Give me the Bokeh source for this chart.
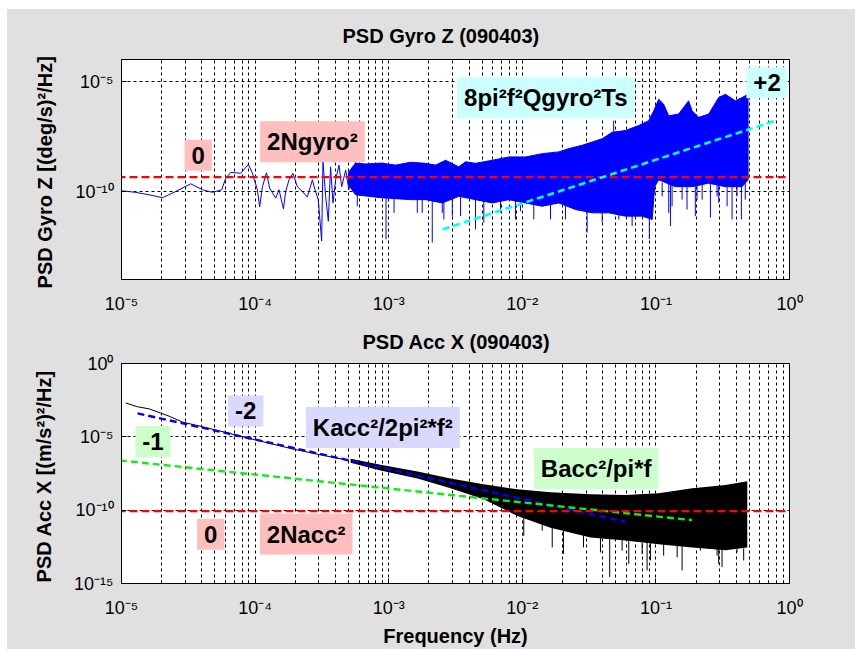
import numpy as np
from bokeh.plotting import figure
from bokeh.models import Range1d, FixedTicker, Label, Spacer
from bokeh.layouts import column, row
from bokeh.embed import file_html
from bokeh.resources import INLINE

FONT = "Liberation Sans"
GRAY = "#e0e0e0"

# ---------------- tick labels ----------------
x_ticks = [1e-5, 1e-4, 1e-3, 1e-2, 1e-1, 1.0]
x_tick_labels = ["10\u207b\u2075", "10\u207b\u2074", "10\u207b\u00b3", "10\u207b\u00b2", "10\u207b\u00b9", "10\u2070"]
gyro_y_ticks = [1e-10, 1e-5]
gyro_y_tick_labels = ["10\u207b\u00b9\u2070", "10\u207b\u2075"]
acc_y_ticks = [1e-15, 1e-10, 1e-5, 1.0]
acc_y_tick_labels = ["10\u207b\u00b9\u2075", "10\u207b\u00b9\u2070", "10\u207b\u2075", "10\u2070"]

# ---------------- PSD Gyro Z (log10 of frequency / PSD) ----------------
gyro_line_logf = [-4.993, -4.893, -4.794, -4.693, -4.594, -4.482, -4.394, -4.319, -4.250, -4.220,
                  -4.182, -4.108, -4.050, -4.020, -3.983, -3.966, -3.945, -3.915, -3.891, -3.846,
                  -3.821, -3.788, -3.771, -3.746, -3.717, -3.684, -3.646, -3.609, -3.571, -3.552,
                  -3.527, -3.502, -3.492, -3.472, -3.452, -3.435, -3.417, -3.397, -3.372, -3.352,
                  -3.322, -3.298, -3.272]
gyro_line_logv = [-9.97, -10.04, -10.15, -10.28, -10.00, -9.65, -9.92, -10.04, -9.92, -9.40,
                  -9.13, -9.17, -8.77, -9.17, -9.92, -10.70, -9.78, -9.15, -9.85, -10.30,
                  -9.92, -10.79, -10.00, -9.47, -9.17, -9.78, -10.00, -10.25, -9.47, -9.92,
                  -10.37, -12.25, -8.65, -10.22, -11.35, -8.88, -10.52, -9.47, -8.80, -9.78,
                  -9.03, -9.92, -8.88]
# dense part: upper and lower envelope
gyro_upper_logf = [-3.300, -3.248, -3.173, -3.061, -2.948, -2.836, -2.724, -2.649, -2.574, -2.475,
                   -2.425, -2.350, -2.225, -2.101, -1.976, -1.851, -1.727, -1.652, -1.552, -1.477,
                   -1.402, -1.328, -1.228, -1.129, -1.054, -1.016, -0.979, -0.942, -0.904, -0.830,
                   -0.755, -0.729, -0.680, -0.605, -0.530, -0.480, -0.405, -0.355, -0.310]
gyro_upper_logv = [-9.12, -8.71, -8.75, -8.71, -8.80, -8.67, -8.72, -8.80, -8.58, -8.88,
                   -8.65, -8.72, -8.58, -8.43, -8.43, -8.28, -8.20, -8.05, -7.90, -7.75,
                   -7.60, -7.31, -7.23, -7.00, -6.78, -6.33, -5.81, -6.03, -6.56, -6.48,
                   -5.88, -6.33, -6.63, -6.48, -5.73, -5.58, -5.88, -5.73, -5.58]
gyro_lower_logf = [-3.300, -3.248, -3.061, -2.836, -2.724, -2.599, -2.475, -2.350, -2.225, -2.101,
                   -1.976, -1.851, -1.727, -1.602, -1.477, -1.353, -1.228, -1.103, -1.028, -1.009,
                   -0.979, -0.854, -0.729, -0.605, -0.480, -0.355, -0.310]
gyro_lower_logv = [-9.70, -10.15, -10.28, -10.37, -10.37, -10.52, -10.22, -10.37, -10.52, -10.37,
                   -10.52, -10.67, -10.52, -10.82, -10.97, -10.97, -11.12, -11.12, -11.27, -9.78,
                   -9.47, -9.78, -9.78, -9.62, -9.78, -9.78, -9.47]
gyro_spike_logf = [-3.235, -3.020, -2.960, -2.786, -2.749, -2.674, -2.599, -2.587, -2.524, -2.462,
                   -2.350, -2.288, -2.163, -2.051, -2.013, -1.914, -1.789, -1.677, -1.515, -1.428,
                   -1.402, -1.278, -1.178, -1.049, -0.953, -0.904, -0.891, -0.879, -0.804, -0.767,
                   -0.705, -0.692, -0.654, -0.592, -0.542, -0.530, -0.467, -0.430, -0.393, -0.360,
                   -0.331]
gyro_spike_top = [-10.0, -10.1, -10.2, -10.2, -10.2, -10.2, -10.3, -10.3, -10.3, -10.2,
                  -10.2, -10.2, -10.2, -10.3, -10.3, -10.3, -10.4, -10.4, -10.7, -10.7,
                  -10.7, -10.8, -10.9, -11.0, -9.6, -9.6, -9.6, -9.6, -9.6, -9.6,
                  -9.6, -9.6, -9.6, -9.6, -9.6, -9.6, -9.6, -9.6, -9.6, -9.6,
                  -9.6]
gyro_spike_bot = [-10.67, -12.17, -10.97, -10.97, -10.97, -12.32, -10.97, -11.27, -11.12, -11.12,
                  -11.72, -11.42, -10.96, -11.27, -10.90, -11.27, -11.27, -11.27, -11.87, -10.97,
                  -11.42, -11.27, -11.57, -12.17, -10.22, -10.97, -11.57, -10.67, -10.37, -10.82,
                  -11.12, -10.37, -10.37, -11.19, -10.22, -10.52, -10.67, -11.27, -10.22, -11.27,
                  -10.37]
gyro_upspike_logf = [-3.250, -3.210, -1.316]
gyro_upspike_base = [-9.0, -9.0, -7.6]
gyro_upspike_tip = [-8.60, -8.70, -6.78]
gyro_noise_logf = [-5.03, -0.017]          # 2Ngyro^2, slope 0
gyro_noise_logv = [-9.35, -9.35]
gyro_quant_logf = [-2.595, -0.089]         # 8pi^2 f^2 Qgyro^2 Ts, slope +2
gyro_quant_logv = [-11.72, -6.75]

# ---------------- PSD Acc X ----------------
acc_line_logf = [-4.968, -4.880, -4.794, -4.644, -4.544, -4.295, -4.046, -3.721, -3.547, -3.298]
acc_line_logv = [-2.69, -2.95, -3.09, -3.59, -3.99, -4.53, -5.10, -5.82, -6.16, -6.61]
acc_band_logf = [-3.285, -3.061, -2.784, -2.537, -2.290, -2.036, -1.789, -1.490, -1.228, -0.981,
                 -0.727, -0.480, -0.316]
acc_band_hi = [-6.49, -6.90, -7.37, -7.84, -8.24, -8.58, -8.78, -8.91, -8.96, -8.84,
               -8.51, -8.29, -8.02]
acc_band_lo = [-6.76, -7.30, -7.84, -8.51, -9.25, -10.39, -11.20, -11.87, -12.07, -12.32,
               -12.54, -12.74, -12.54]
acc_spike_logf = [-1.989, -1.851, -1.776, -1.692, -1.542, -1.415, -1.346, -1.253, -1.203, -1.103,
                  -1.066, -1.041, -0.942, -0.841, -0.804, -0.667, -0.542, -0.530, -0.505, -0.393,
                  -0.343]
acc_spike_top = [-10.2, -10.8, -11.0, -11.4, -11.7, -11.8, -11.9, -12.0, -12.0, -12.2,
                 -12.2, -12.2, -12.3, -12.4, -12.4, -12.5, -12.6, -12.6, -12.6, -12.6,
                 -12.6]
acc_spike_bot = [-11.75, -11.40, -12.54, -12.99, -12.54, -12.88, -14.55, -12.76, -13.66, -12.99,
                 -14.10, -13.43, -13.10, -13.21, -14.10, -12.76, -13.10, -13.66, -13.88, -12.88,
                 -13.43]
acc_noise_logf = [-5.03, -0.017]           # 2Nacc^2, slope 0
acc_noise_logv = [-10.07, -10.07]
acc_rate_logf = [-4.880, -1.228]           # Kacc^2/2pi^2 f^2, slope -2
acc_rate_logv = [-3.40, -10.79]
acc_bias_logf = [-5.012, -0.729]           # Bacc^2/pi f, slope -1
acc_bias_logv = [-6.61, -10.68]


def p10(a):
    return 10.0 ** np.asarray(a, dtype=float)


x_minor = [m * 10.0 ** d for d in range(-5, 0) for m in range(2, 10)]


def make_fig(height, btop, bbottom, yr, yticks, ylabels, ylabel, title, title_offset,
             title_standoff, xlabel=None):
    p = figure(width=848, height=height, x_axis_type="log", y_axis_type="log",
               x_range=Range1d(1e-5, 1.0), y_range=Range1d(*yr),
               output_backend="svg", toolbar_location=None,
               min_border_left=114, min_border_right=66,
               min_border_top=btop, min_border_bottom=bbottom)
    p.border_fill_color = GRAY
    p.background_fill_color = "white"
    p.outline_line_color = "black"
    p.outline_line_alpha = 1.0
    p.outline_line_width = 1

    p.title.text = title
    p.title.align = "left"
    p.title.offset = title_offset
    p.title.text_font = FONT
    p.title.text_font_size = "20px"
    p.title.text_font_style = "bold"
    p.title.text_color = "black"
    p.title.standoff = title_standoff

    p.xaxis.ticker = FixedTicker(ticks=x_ticks, minor_ticks=x_minor)
    p.xaxis.major_label_overrides = dict(zip(x_ticks, x_tick_labels))
    p.yaxis.ticker = FixedTicker(ticks=yticks, minor_ticks=[])
    p.yaxis.major_label_overrides = dict(zip(yticks, ylabels))

    for ax in (p.xaxis[0], p.yaxis[0]):
        ax.axis_line_color = "black"
        ax.major_tick_line_color = "black"
        ax.minor_tick_line_color = "black"
        ax.major_tick_in = 5
        ax.major_tick_out = 0
        ax.minor_tick_in = 3
        ax.minor_tick_out = 0
        ax.major_label_text_font = FONT
        ax.major_label_text_font_size = "18px"
        ax.major_label_text_color = "black"
        ax.axis_label_text_font = FONT
        ax.axis_label_text_font_size = "20px"
        ax.axis_label_text_font_style = "bold"
        ax.axis_label_text_color = "black"
    p.xaxis.major_label_standoff = 14
    p.yaxis.major_label_standoff = 8
    p.yaxis.axis_label = ylabel
    p.yaxis.axis_label_standoff = 16
    if xlabel:
        p.xaxis.axis_label = xlabel
        p.xaxis.axis_label_standoff = 4

    p.xgrid.grid_line_color = "black"
    p.xgrid.grid_line_dash = "3 3"
    p.xgrid.grid_line_alpha = 1.0
    p.xgrid.minor_grid_line_color = "black"
    p.xgrid.minor_grid_line_dash = "3 3"
    p.xgrid.minor_grid_line_alpha = 1.0
    p.ygrid.grid_line_color = "black"
    p.ygrid.grid_line_dash = "3 3"
    p.ygrid.grid_line_alpha = 1.0
    return p


def add_box(p, lx, ly, text, fill):
    p.add_layout(Label(x=10.0 ** lx, y=10.0 ** ly, text=text, text_align="center",
                       text_baseline="middle", text_font=FONT, text_font_size="24px",
                       text_font_style="bold", text_color="black",
                       background_fill_color=fill, background_fill_alpha=1.0, padding=7))


PINK = "#ffbfbf"
CYANBOX = "#ccffff"
LAV = "#d9d9ff"
GREENBOX = "#ccffcc"

# ---------------- top: Gyro Z ----------------
p1 = make_fig(307, 50, 35, (1e-14, 1e-4), gyro_y_ticks, gyro_y_tick_labels,
              "PSD Gyro Z  [(deg/s)\u00b2/Hz]", "PSD Gyro Z  (090403)", 221, 25)
BLUE = "#0000ff"
band_x = list(gyro_upper_logf) + list(gyro_lower_logf[::-1])
band_y = list(gyro_upper_logv) + list(gyro_lower_logv[::-1])
p1.patch(p10(band_x), p10(band_y), fill_color=BLUE, line_color=BLUE, line_width=1)
p1.line(p10(gyro_line_logf), p10(gyro_line_logv), line_color=BLUE, line_width=1)
p1.segment(x0=p10(gyro_spike_logf), y0=p10(gyro_spike_top), x1=p10(gyro_spike_logf),
           y1=p10(gyro_spike_bot), line_color=BLUE, line_width=1)
p1.segment(x0=p10(gyro_upspike_logf), y0=p10(gyro_upspike_base), x1=p10(gyro_upspike_logf),
           y1=p10(gyro_upspike_tip), line_color=BLUE, line_width=1)
p1.line(p10(gyro_noise_logf), p10(gyro_noise_logv), line_color="#ff0000", line_width=2.2, line_dash="8 4")
p1.line(p10(gyro_quant_logf), p10(gyro_quant_logv), line_color="#00ffff", line_width=2.6, line_dash="7 4")

add_box(p1, -4.426, -8.352, "0", PINK)
add_box(p1, -3.571, -7.733, "2Ngyro\u00b2", PINK)
add_box(p1, -1.824, -5.734, "8pi\u00b2f\u00b2Qgyro\u00b2Ts", CYANBOX)
add_box(p1, -0.168, -5.061, "+2", CYANBOX)

# ---------------- bottom: Acc X ----------------
p2 = make_fig(333, 47, 63, (1e-15, 1.0), acc_y_ticks, acc_y_tick_labels,
              "PSD Acc X  [(m/s\u00b2)\u00b2/Hz]", "PSD Acc X  (090403)", 241, 22, "Frequency (Hz)")
p2.varea(x=p10(acc_band_logf), y1=p10(acc_band_lo), y2=p10(acc_band_hi), fill_color="black")
p2.line(p10(acc_line_logf), p10(acc_line_logv), line_color="black", line_width=1)
p2.segment(x0=p10(acc_spike_logf), y0=p10(acc_spike_top), x1=p10(acc_spike_logf),
           y1=p10(acc_spike_bot), line_color="black", line_width=1)
p2.line(p10(acc_rate_logf), p10(acc_rate_logv), line_color="#0000ff", line_width=2.4, line_dash="7 4")
p2.line(p10(acc_bias_logf), p10(acc_bias_logv), line_color="#11ee11", line_width=2.4, line_dash="7 4")
p2.line(p10(acc_noise_logf), p10(acc_noise_logv), line_color="#ff0000", line_width=2.2, line_dash="8 4")

add_box(p2, -4.070, -3.237, "-2", LAV)
add_box(p2, -3.044, -4.365, "Kacc\u00b2/2pi\u00b2*f\u00b2", LAV)
add_box(p2, -4.764, -5.319, "-1", GREENBOX)
add_box(p2, -1.447, -7.166, "Bacc\u00b2/pi*f", GREENBOX)
add_box(p2, -4.332, -11.645, "0", PINK)
add_box(p2, -3.618, -11.632, "2Nacc\u00b2", PINK)

inner = column(p1, p2, spacing=0, styles={"background-color": GRAY})
layout = column(Spacer(height=9, width=855), row(Spacer(width=7, height=640), inner, spacing=0), spacing=0)
open("out.html", "w").write(file_html(layout, INLINE))
